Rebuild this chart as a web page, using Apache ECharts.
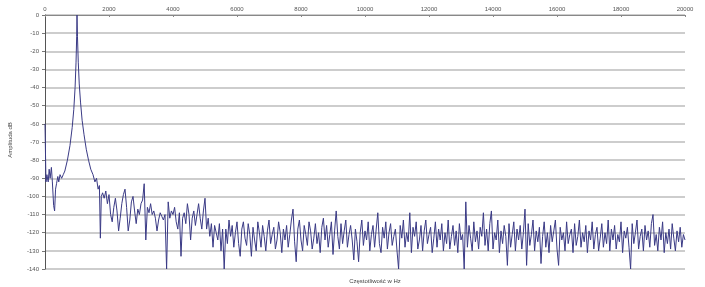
<!DOCTYPE html>
<html><head><meta charset="utf-8">
<script src="https://cdn.jsdelivr.net/npm/echarts@6/dist/echarts.min.js"></script>
<style>html,body{margin:0;padding:0;background:#fff}#c{width:705px;height:287px}</style>
</head><body><div id="c"></div>
<script>
// Low-frequency part (explicit frequency / amplitude pairs)
var lowFreq = [0,30,60,100,130,160,200,230,270,300,330,360,400,430,470,520,570,620,700,780,850,900,940,970,990,1000,1015,1040,1070,1110,1160,1220,1290,1360,1430,1500,1560,1610,1660,1700,1730,1760];
var lowAmp  = [-60,-92,-88,-92,-85,-90,-84,-92,-105,-108,-96,-93,-89,-92,-88,-90,-88,-86,-80,-72,-62,-52,-40,-26,-12,0,-12,-26,-38,-48,-58,-66,-74,-80,-85,-88,-92,-90,-96,-94,-123,-100];
// Noise floor from 1800 Hz upward, one value every noiseStep Hz
var noiseStart = 1800, noiseStep = 50;
var noiseAmp = [
-98,-101,-97,-104,-99,-110,-114,-106,-101,-108,-119,-112,-104,-99,-96,-106,-119,-113,-103,-100,
-108,-115,-107,-110,-104,-102,-93,-124,-106,-109,-104,-110,-108,-112,-119,-113,-109,-111,-113,-110,
-140,-103,-112,-108,-110,-106,-114,-118,-109,-133,-112,-109,-115,-104,-110,-124,-112,-108,-116,-110,
-104,-112,-118,-108,-101,-118,-112,-122,-115,-128,-116,-120,-124,-115,-130,-118,-140,-118,-126,-113,
-122,-116,-128,-120,-114,-126,-133,-118,-114,-123,-127,-115,-121,-133,-117,-124,-130,-114,-120,-128,
-116,-122,-130,-119,-113,-126,-121,-117,-129,-124,-114,-120,-131,-118,-124,-116,-128,-121,-113,-107,
-125,-136,-118,-113,-124,-130,-116,-121,-127,-114,-119,-129,-123,-115,-126,-120,-131,-117,-112,-124,
-116,-128,-121,-114,-132,-119,-108,-122,-129,-115,-126,-119,-113,-128,-121,-116,-124,-135,-118,-125,
-136,-120,-113,-127,-119,-124,-114,-130,-121,-116,-128,-118,-109,-126,-131,-117,-123,-114,-129,-120,
-115,-127,-122,-118,-130,-140,-116,-123,-113,-128,-120,-125,-109,-131,-117,-122,-114,-129,-124,-116,
-130,-119,-113,-126,-121,-117,-131,-123,-114,-128,-118,-124,-115,-130,-120,-126,-113,-129,-122,-116,
-127,-119,-131,-115,-124,-121,-140,-103,-128,-116,-123,-130,-114,-125,-119,-129,-117,-122,-109,-127,
-118,-130,-115,-108,-129,-120,-124,-113,-131,-119,-126,-116,-122,-138,-115,-128,-121,-114,-130,-118,
-124,-116,-129,-120,-107,-138,-115,-127,-121,-113,-130,-119,-125,-117,-137,-122,-114,-128,-120,-131,
-116,-125,-119,-113,-129,-138,-117,-124,-120,-130,-114,-126,-121,-118,-131,-115,-127,-122,-113,-128,
-120,-125,-116,-131,-119,-124,-114,-129,-121,-117,-130,-123,-115,-128,-120,-126,-113,-130,-118,-124,
-116,-129,-121,-125,-114,-131,-119,-123,-117,-128,-140,-115,-126,-120,-113,-129,-122,-118,-130,-116,
-124,-119,-128,-115,-110,-127,-121,-130,-117,-124,-114,-131,-120,-126,-118,-129,-115,-123,-130,-119,
-125,-117,-128,-121,-124
];
var xTicks = [0,2000,4000,6000,8000,10000,12000,14000,16000,18000,20000];
var yMin = -140, yMax = 0, yStep = 10;
var xTitle = 'Częstotliwość w Hz';
var yTitle = 'Amplituda dB';

var data = [];
for (var i = 0; i < lowFreq.length; i++) data.push([lowFreq[i], lowAmp[i]]);
for (var j = 0; j < noiseAmp.length; j++) data.push([noiseStart + j * noiseStep, noiseAmp[j]]);

var chart = echarts.init(document.getElementById('c'), null, {renderer: 'canvas'});
chart.setOption({
  animation: false,
  backgroundColor: '#ffffff',
  grid: {left: 45, right: 20, top: 15, bottom: 18, containLabel: false},
  title: {
    text: xTitle, left: 370, top: 273, textAlign: 'center',
    textStyle: {fontSize: 6, fontWeight: 'normal', color: '#444', fontFamily: 'Liberation Sans'}
  },
  graphic: [{
    type: 'text', x: 10, y: 140, rotation: Math.PI / 2,
    style: {text: yTitle, fontSize: 6, fill: '#444', fontFamily: 'Liberation Sans', align: 'center', verticalAlign: 'middle'}
  }],
  xAxis: {
    type: 'value', position: 'top', min: xTicks[0], max: xTicks[xTicks.length - 1], interval: 2000,
    axisLine: {show: true, lineStyle: {color: '#888', width: 1}},
    axisTick: {show: true, inside: true, length: 2, lineStyle: {color: '#888'}},
    axisLabel: {fontSize: 6, color: '#555', margin: 3, fontFamily: 'Liberation Sans',
      formatter: function (v) { return String(v); }},
    splitLine: {show: false}
  },
  yAxis: {
    type: 'value', min: yMin, max: yMax, interval: yStep,
    axisLine: {show: true, lineStyle: {color: '#555', width: 1}},
    axisTick: {show: true, length: 3, lineStyle: {color: '#777'}},
    axisLabel: {fontSize: 6, color: '#555', margin: 6, fontFamily: 'Liberation Sans'},
    splitLine: {show: true, lineStyle: {color: '#bdbdbd', width: 1.5}}
  },
  series: [{
    type: 'line', data: data, showSymbol: false, symbol: 'none',
    lineStyle: {color: '#3a3a85', width: 1}, z: 3
  }]
});
</script></body></html>
